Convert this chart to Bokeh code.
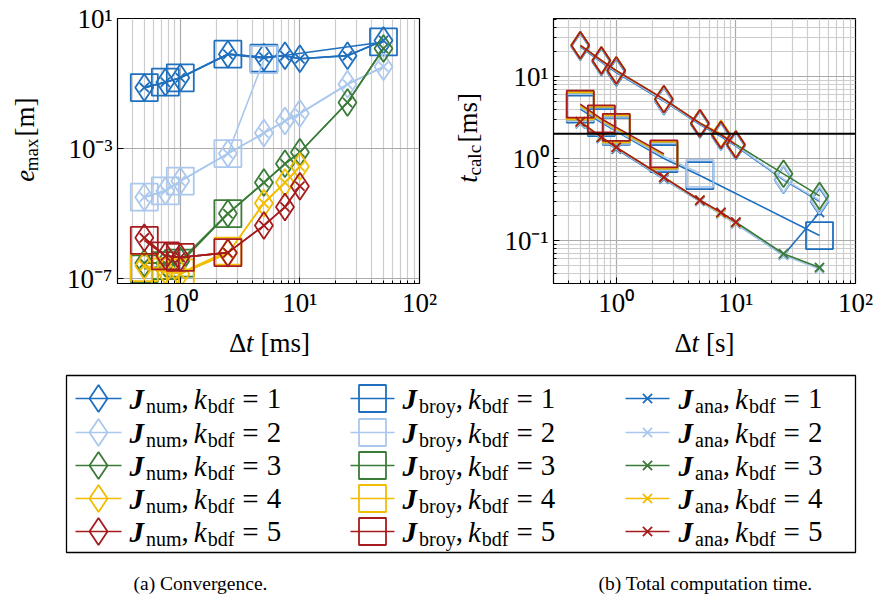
import numpy as np
from bokeh.plotting import figure
from bokeh.models import Range1d, FixedTicker, Span, CustomJSTickFormatter
from bokeh.layouts import column, row
from bokeh.embed import file_html
from bokeh.resources import INLINE
from bokeh.core.properties import value

FONT = "Liberation Serif"

# ---------------- data ----------------
k_bdf = [1, 2, 3, 4, 5]
colors = ["#1f6fbf", "#aac8ee", "#3b7b38", "#f2bd00", "#a61b1d"]

dt_all = [0.5, 0.75, 1.0, 2.5, 5.0, 7.5, 10.0, 25.0, 50.0]
dt_to10 = [0.5, 0.75, 1.0, 2.5, 5.0, 7.5, 10.0]
dt_broy_k1 = [0.5, 0.75, 1.0, 2.5, 5.0, 50.0]
dt_broy_k2 = [0.5, 0.75, 1.0, 2.5, 5.0]
dt_broy_k345 = [0.5, 0.75, 1.0, 2.5]

# (a) convergence, e_max [m]
emax_num_k1 = [0.075, 0.11, 0.15, 0.80, 0.64, 0.72, 0.58, 0.72, 2.1]
emax_num_k2 = [3.2e-5, 5.0e-5, 1.0e-4, 7.0e-4, 3.0e-3, 7.0e-3, 1.2e-2, 9.5e-2, 0.33]
emax_num_k3 = [3.0e-7, 3.0e-7, 3.5e-7, 1.0e-5, 9.0e-5, 3.4e-4, 7.7e-4, 2.6e-2, 1.2]
emax_num_k4 = [2.5e-7, 1.8e-7, 1.4e-7, 6.0e-7, 2.1e-5, 9.0e-5, 2.8e-4]
emax_num_k5 = [1.8e-6, 5.0e-7, 4.5e-7, 6.3e-7, 4.3e-6, 1.6e-5, 7.0e-5]
emax_broy_k1 = [0.075, 0.11, 0.15, 0.80, 0.60, 1.9]
emax_broy_k2 = [3.2e-5, 5.0e-5, 1.0e-4, 7.0e-4, 0.54]
emax_broy_k3 = [2.0e-7, 2.5e-7, 3.0e-7, 1.0e-5]
emax_broy_k4 = [2.2e-7, 1.6e-7, 1.5e-7, 7.0e-7]
emax_broy_k5 = [1.5e-6, 5.0e-7, 4.5e-7, 6.3e-7]
emax_ana_k1 = [0.075, 0.11, 0.15, 0.80, 0.64, 0.72, 0.58, 0.72, 2.1]
emax_ana_k2 = [3.2e-5, 5.0e-5, 1.0e-4, 7.0e-4, 3.0e-3, 7.0e-3, 1.2e-2, 9.5e-2, 0.33]
emax_ana_k3 = [3.0e-7, 3.0e-7, 3.5e-7, 1.0e-5, 9.0e-5, 3.4e-4, 7.7e-4, 2.6e-2, 1.2]
emax_ana_k4 = [2.5e-7, 1.8e-7, 1.4e-7, 6.0e-7, 2.1e-5, 9.0e-5, 2.8e-4]
emax_ana_k5 = [1.8e-6, 5.0e-7, 4.5e-7, 6.3e-7, 4.3e-6, 1.6e-5, 7.0e-5]

# (b) total computation time, t_calc [ms]
tcalc_num_k1 = [23.0, 15.0, 11.2, 5.0, 2.6, 1.85, 1.42, 0.55, 0.30]
tcalc_num_k2 = [23.5, 15.3, 11.5, 5.1, 2.65, 1.9, 1.45, 0.56, 0.31]
tcalc_num_k3 = [24.0, 15.7, 11.8, 5.3, 2.7, 1.95, 1.48, 0.65, 0.35]
tcalc_num_k4 = [24.0, 15.7, 11.8, 5.3, 2.7, 2.0, 1.48]
tcalc_num_k5 = [24.0, 15.7, 11.8, 5.3, 2.7, 1.95, 1.48]
tcalc_broy_k1 = [4.0, 2.75, 2.15, 1.0, 0.62, 0.115]
tcalc_broy_k2 = [4.2, 2.85, 2.2, 1.05, 0.66]
tcalc_broy_k3 = [4.4, 2.95, 2.3, 1.1]
tcalc_broy_k4 = [4.4, 2.95, 2.3, 1.1]
tcalc_broy_k5 = [4.6, 3.05, 2.4, 1.14]
tcalc_ana_k1 = [2.65, 1.75, 1.30, 0.56, 0.30, 0.21, 0.16, 0.066, 0.22]
tcalc_ana_k2 = [2.7, 1.78, 1.33, 0.57, 0.30, 0.21, 0.16, 0.066, 0.045]
tcalc_ana_k3 = [2.8, 1.82, 1.37, 0.59, 0.31, 0.22, 0.167, 0.069, 0.047]
tcalc_ana_k4 = [2.8, 1.82, 1.37, 0.59, 0.31, 0.215, 0.165]
tcalc_ana_k5 = [2.8, 1.82, 1.37, 0.59, 0.31, 0.22, 0.167]
t_limit = 2.0

xticks = [1, 10, 100]
yticks_a = [1e-7, 1e-3, 1e1]
yticks_b = [0.1, 1, 10]
captions = ["(a) Convergence.", "(b) Total computation time."]
jac_names = ["num", "broy", "ana"]

# ---------------- assemble ----------------
dt_num = [dt_all, dt_all, dt_all, dt_to10, dt_to10]
dt_broy = [dt_broy_k1, dt_broy_k2, dt_broy_k345, dt_broy_k345, dt_broy_k345]
emax_num = [emax_num_k1, emax_num_k2, emax_num_k3, emax_num_k4, emax_num_k5]
emax_broy = [emax_broy_k1, emax_broy_k2, emax_broy_k3, emax_broy_k4, emax_broy_k5]
emax_ana = [emax_ana_k1, emax_ana_k2, emax_ana_k3, emax_ana_k4, emax_ana_k5]
tcalc_num = [tcalc_num_k1, tcalc_num_k2, tcalc_num_k3, tcalc_num_k4, tcalc_num_k5]
tcalc_broy = [tcalc_broy_k1, tcalc_broy_k2, tcalc_broy_k3, tcalc_broy_k4, tcalc_broy_k5]
tcalc_ana = [tcalc_ana_k1, tcalc_ana_k2, tcalc_ana_k3, tcalc_ana_k4, tcalc_ana_k5]

MARK = {"num": ("diamond", 27), "broy": ("square", 27), "ana": ("x", 13)}
LW = 1.6
MLW = 1.8

minor_x = [m * 10.0 ** e for e in range(-1, 2) for m in range(2, 10)]
minor_y = [m * 10.0 ** e for e in range(-2, 2) for m in range(2, 10)]

POW_FMT = CustomJSTickFormatter(code=r"""
const sup = {"-": "\u207b", "0": "\u2070", "1": "\u00b9", "2": "\u00b2", "3": "\u00b3",
             "4": "\u2074", "5": "\u2075", "6": "\u2076", "7": "\u2077", "8": "\u2078",
             "9": "\u2079"};
const e = Math.round(Math.log10(tick));
let s = "10";
for (const c of String(e)) { s += sup[c]; }
return s;
""")

W = {' ': 250, ',': 250, '.': 250, '(': 333, ')': 333, '[': 333, ']': 333, '=': 564,
     'a': 444, 'b': 500, 'c': 444, 'd': 500, 'e': 444, 'f': 333, 'g': 500, 'h': 500,
     'i': 278, 'k': 444, 'l': 278, 'm': 778, 'n': 500, 'o': 500, 'p': 500, 'r': 333,
     's': 389, 't': 278, 'u': 500, 'v': 500, 'x': 500, 'y': 500, 'C': 667, 'J': 500,
     'T': 611, 'Δ': 612}


def layout_pieces(pieces, start=0.0):
    pos = start
    out = []
    for txt, style, size, dy, gap in pieces:
        pos += gap
        out.append((pos, txt, style, size, dy))
        pos += sum(W.get(c, 500) for c in txt) / 1000.0 * size
    return out, pos - start


def blank(w, h):
    # pixel canvas: x to the right, y downwards
    f = figure(width=w, height=h, x_range=Range1d(0, w), y_range=Range1d(h, 0),
               toolbar_location=None, output_backend="svg", x_axis_location=None,
               y_axis_location=None, min_border=0, min_border_left=0,
               min_border_right=0, min_border_top=0, min_border_bottom=0, title=None)
    f.grid.visible = False
    f.outline_line_color = None
    f.background_fill_color = "white"
    f.border_fill_color = "white"
    return f


def put_pieces(f, ox, oy, pieces, center, base, vertical):
    _, total = layout_pieces(pieces)
    placed, _ = layout_pieces(pieces, -total / 2.0)
    for pos, txt, style, size, dy in placed:
        if vertical:
            cx, cy, ang = base + dy, center - pos, np.pi / 2
        else:
            cx, cy, ang = center + pos, base + dy, 0.0
        f.text(x=[cx - ox], y=[cy - oy], text=[txt], text_font=value(FONT),
               text_font_size=value(f"{size}px"), text_font_style=style,
               text_color="black", text_align="left", text_baseline="middle",
               angle=ang)


def style_plot(p):
    for ax in p.axis:
        ax.formatter = POW_FMT
        ax.major_label_text_font = FONT
        ax.major_label_text_font_size = "27px"
        ax.major_label_text_color = "black"
        ax.major_tick_in = 6
        ax.major_tick_out = 0
        ax.minor_tick_in = 3
        ax.minor_tick_out = 0
        ax.axis_line_color = "black"
        ax.major_tick_line_color = "black"
        ax.minor_tick_line_color = "black"
    p.xaxis.major_label_standoff = 4
    p.yaxis.major_label_standoff = 5
    p.outline_line_color = "black"
    p.outline_line_width = 1.2
    for g in (p.xgrid, p.ygrid):
        g.grid_line_color = "#ababab"
        g.grid_line_width = 1.2
        g.minor_grid_line_color = "#cdcdcd"
        g.minor_grid_line_width = 1.2
    p.background_fill_color = "white"
    p.border_fill_color = "white"


def draw_series(p, xs, ys, color, kind):
    marker, size = MARK[kind]
    p.line(xs, ys, line_color=color, line_width=LW)
    p.scatter(xs, ys, marker=marker, size=size, line_color=color, fill_color=None,
              line_width=MLW)


TOP_H = 325

# ---------------- (a) ----------------
p1 = figure(width=390, height=TOP_H, x_axis_type="log", y_axis_type="log",
            x_range=Range1d(0.2985, 100), y_range=Range1d(7.1e-8, 10),
            min_border_left=67, min_border_right=21, min_border_top=18,
            min_border_bottom=TOP_H - 283, toolbar_location=None, output_backend="svg")
p1.xaxis.ticker = FixedTicker(ticks=xticks, minor_ticks=minor_x)
p1.yaxis.ticker = FixedTicker(ticks=yticks_a, minor_ticks=[])
style_plot(p1)
for i in range(5):
    draw_series(p1, dt_num[i], emax_num[i], colors[i], "num")
    draw_series(p1, dt_broy[i], emax_broy[i], colors[i], "broy")
    draw_series(p1, dt_num[i], emax_ana[i], colors[i], "ana")

ylab1 = blank(50, TOP_H)
put_pieces(ylab1, 0, 0, [("e", "italic", 27, 0, 0), ("max", "normal", 19, 7, 1),
                         ("[m]", "normal", 27, 0, 10)], 153, 24, True)

# ---------------- (b) ----------------
p2 = figure(width=387, height=TOP_H, x_axis_type="log", y_axis_type="log",
            x_range=Range1d(0.2985, 100), y_range=Range1d(0.0299, 51),
            min_border_left=63, min_border_right=22, min_border_top=18,
            min_border_bottom=TOP_H - 283, toolbar_location=None, output_backend="svg")
p2.xaxis.ticker = FixedTicker(ticks=xticks, minor_ticks=minor_x)
p2.yaxis.ticker = FixedTicker(ticks=yticks_b, minor_ticks=minor_y)
style_plot(p2)
for i in range(5):
    draw_series(p2, dt_num[i], tcalc_num[i], colors[i], "num")
    draw_series(p2, dt_broy[i], tcalc_broy[i], colors[i], "broy")
    draw_series(p2, dt_num[i], tcalc_ana[i], colors[i], "ana")
p2.add_layout(Span(location=t_limit, dimension="width", line_color="black", line_width=2))

ylab2 = blank(50, TOP_H)
put_pieces(ylab2, 440, 0, [("t", "italic", 27, 0, 0), ("calc", "normal", 19, 7, 1.5),
                           ("[ms]", "normal", 27, 0, 10)], 152, 467, True)

# ---------------- x labels, legend, captions ----------------
OY = TOP_H
p3 = blank(877, 598 - TOP_H)
put_pieces(p3, 0, OY, [("Δ", "normal", 27, 0, 0), ("t", "italic", 27, 0, 0.5),
                       ("[ms]", "normal", 27, 0, 7)], 269, 342, False)
put_pieces(p3, 0, OY, [("Δ", "normal", 27, 0, 0), ("t", "italic", 27, 0, 0.5),
                       ("[s]", "normal", 27, 0, 7)], 704, 342, False)

p3.quad(left=[66], right=[855], top=[375 - OY], bottom=[552 - OY], fill_color="white",
        line_color="black", line_width=1.3)

col_line = [(75, 121), (350, 394), (625, 669)]
col_text = [129, 402, 678]
row_y = [398, 432, 465, 498, 531]

groups = {}
for c, name in enumerate(jac_names):
    marker, size = MARK[name]
    x0, x1 = col_line[c]
    for r, k in enumerate(k_bdf):
        y = row_y[r] - OY
        p3.line([x0, x1], [y, y], line_color=colors[r], line_width=LW)
        p3.scatter([(x0 + x1) / 2], [y], marker=marker, size=size, line_color=colors[r],
                   fill_color=None, line_width=MLW)
        pieces = [("J", "bold italic", 29, 0, 0), (name, "normal", 20, 7, 2),
                  (",", "normal", 29, 0, 0), ("k", "italic", 29, 0, 5),
                  ("bdf", "normal", 20, 7, 1), ("=", "normal", 29, 0, 8),
                  (str(k), "normal", 29, 0, 8)]
        placed, _ = layout_pieces(pieces, col_text[c])
        for pos, txt, style, sz, dy in placed:
            g = groups.setdefault((style, sz), ([], [], []))
            g[0].append(pos)
            g[1].append(y + dy)
            g[2].append(txt)

for (style, sz), (xs, ys, ts) in groups.items():
    p3.text(x=xs, y=ys, text=ts, text_font=value(FONT), text_font_size=value(f"{sz}px"),
            text_font_style=style, text_color="black", text_align="left",
            text_baseline="middle")

p3.text(x=[200, 705], y=[583 - OY, 583 - OY], text=captions, text_font=value(FONT),
        text_font_size=value("19.5px"), text_color="black", text_align="center",
        text_baseline="middle")

layout = column(row(ylab1, p1, ylab2, p2), p3)
open("out.html", "w").write(file_html(layout, INLINE))
